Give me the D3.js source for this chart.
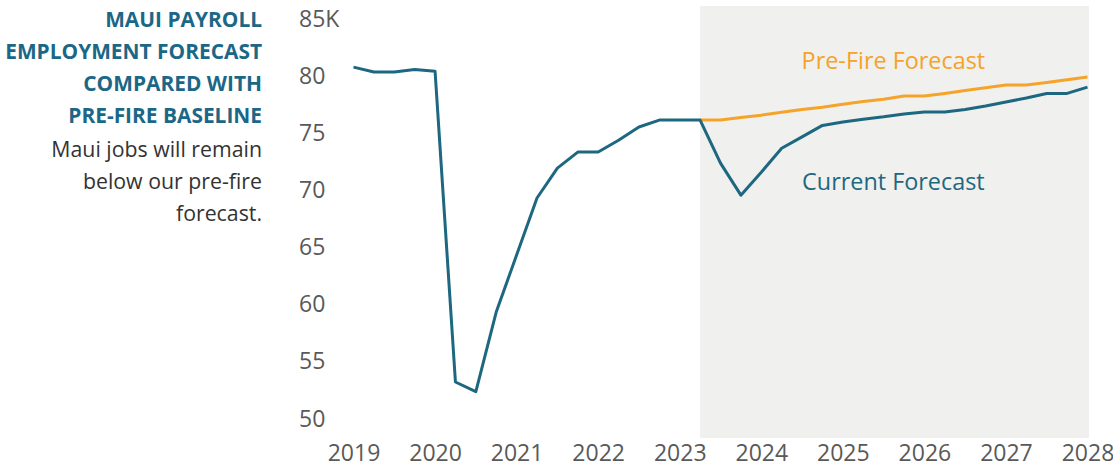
<!DOCTYPE html>
<html>
<head>
<meta charset="utf-8">
<script src="https://cdn.jsdelivr.net/npm/d3@7"></script>
<style>
  html, body { margin: 0; padding: 0; background: #ffffff; }
  svg { display: block; font-family: "Open Sans", "Noto Sans", sans-serif; }
</style>
</head>
<body>
<svg id="chart" width="1113" height="470"></svg>
<script>
// ---- data ----
const quarters = [
  "2019Q1","2019Q2","2019Q3","2019Q4",
  "2020Q1","2020Q2","2020Q3","2020Q4",
  "2021Q1","2021Q2","2021Q3","2021Q4",
  "2022Q1","2022Q2","2022Q3","2022Q4",
  "2023Q1","2023Q2","2023Q3","2023Q4",
  "2024Q1","2024Q2","2024Q3","2024Q4",
  "2025Q1","2025Q2","2025Q3","2025Q4",
  "2026Q1","2026Q2","2026Q3","2026Q4",
  "2027Q1","2027Q2","2027Q3","2027Q4",
  "2028Q1"
];
// Actual jobs (thousands), 2019Q1 - 2023Q2
const history = [80.7, 80.27, 80.27, 80.5, 80.35, 53.15, 52.3, 59.27, 64.26, 69.25, 71.87, 73.27,
                 73.27, 74.3, 75.46, 76.07, 76.07, 76.07];
// Current forecast, 2023Q2 - 2028Q1
const currentForecast = [76.07, 72.3, 69.5, 71.5, 73.6, 74.6, 75.6, 75.9, 76.15, 76.35, 76.6, 76.77,
                         76.77, 77.0, 77.3, 77.65, 78.0, 78.4, 78.4, 78.95];
// Pre-fire forecast, 2023Q2 - 2028Q1
const preFireForecast = [76.07, 76.07, 76.3, 76.5, 76.75, 77.0, 77.2, 77.45, 77.7, 77.9, 78.17, 78.17,
                         78.4, 78.65, 78.9, 79.13, 79.13, 79.35, 79.6, 79.83];
const forecastStart = "2023Q2";
const yTicks = [50, 55, 60, 65, 70, 75, 80, 85];
const xTicks = [2019, 2020, 2021, 2022, 2023, 2024, 2025, 2026, 2027, 2028];
const titleLines = ["MAUI PAYROLL", "EMPLOYMENT FORECAST", "COMPARED WITH", "PRE-FIRE BASELINE"];
const subtitleLines = ["Maui jobs will remain", "below our pre-fire", "forecast."];

// ---- styles ----
const teal = "#1d6880";
const orange = "#f5a329";
const titleColor = "#1b6787";
const axisColor = "#595959";
const shade = "#f0f0ee";

const svg = d3.select("#chart");

const qToNum = q => +q.slice(0, 4) + (+q.slice(5) - 1) / 4;

const x = d3.scaleLinear().domain([2019, 2028]).range([353.5, 1087.5]);
const y = d3.scaleLinear().domain([48.25, 86.05]).range([438, 6]);

// shaded forecast region
svg.append("rect")
  .attr("x", x(qToNum(forecastStart)))
  .attr("y", y(86.05))
  .attr("width", x(qToNum(quarters[quarters.length - 1])) + 1.5 - x(qToNum(forecastStart)))
  .attr("height", y(48.25) - y(86.05))
  .attr("fill", shade);

// y axis labels
const yAxis = d3.axisLeft(y).tickValues(yTicks).tickSize(0)
  .tickFormat(d => d === 85 ? "85K" : d);
const gy = svg.append("g").attr("transform", "translate(299,0)").call(yAxis);
gy.select(".domain").remove();
gy.selectAll("text")
  .attr("text-anchor", "start").attr("x", 0).attr("dy", "0.35em")
  .attr("fill", axisColor).style("font-size", "23px")
  .style("font-family", "'Open Sans', sans-serif");

// x axis labels
const xAxis = d3.axisBottom(x).tickValues(xTicks).tickSize(0).tickFormat(d3.format("d"));
const gx = svg.append("g").attr("transform", "translate(0,444)").call(xAxis);
gx.select(".domain").remove();
gx.selectAll("text")
  .attr("y", 0).attr("dy", "0.76em")
  .attr("fill", axisColor).style("font-size", "23px")
  .style("font-family", "'Open Sans', sans-serif");

const line = d3.line().x(d => x(d.t)).y(d => y(d.v));
const startIdx = quarters.indexOf(forecastStart);

const histData = history.map((v, i) => ({ t: qToNum(quarters[i]), v }));
const curData = currentForecast.map((v, i) => ({ t: qToNum(quarters[startIdx + i]), v }));
const preData = preFireForecast.map((v, i) => ({ t: qToNum(quarters[startIdx + i]), v }));

svg.append("path").datum(preData).attr("d", line)
  .attr("fill", "none").attr("stroke", orange).attr("stroke-width", 3)
  .attr("stroke-linejoin", "round");
svg.append("path").datum(histData.concat(curData.slice(1))).attr("d", line)
  .attr("fill", "none").attr("stroke", teal).attr("stroke-width", 3)
  .attr("stroke-linejoin", "round");

// series labels
svg.append("text").attr("x", x(2025.62)).attr("y", 69)
  .attr("text-anchor", "middle").attr("fill", orange)
  .style("font-size", "23.4px").text("Pre-Fire Forecast");
svg.append("text").attr("x", x(2025.62)).attr("y", 190)
  .attr("text-anchor", "middle").attr("fill", teal)
  .style("font-size", "23.4px").text("Current Forecast");

// title block
const tg = svg.append("g").attr("text-anchor", "end");
titleLines.forEach((t, i) => {
  tg.append("text").attr("x", 262).attr("y", 27 + i * 32)
    .attr("fill", titleColor).style("font-weight", "700").style("font-size", "20.9px")
    .text(t);
});
subtitleLines.forEach((t, i) => {
  tg.append("text").attr("x", 262).attr("y", 157 + i * 32)
    .attr("fill", "#333333").style("font-size", "21.3px")
    .text(t);
});
</script>
</body>
</html>
